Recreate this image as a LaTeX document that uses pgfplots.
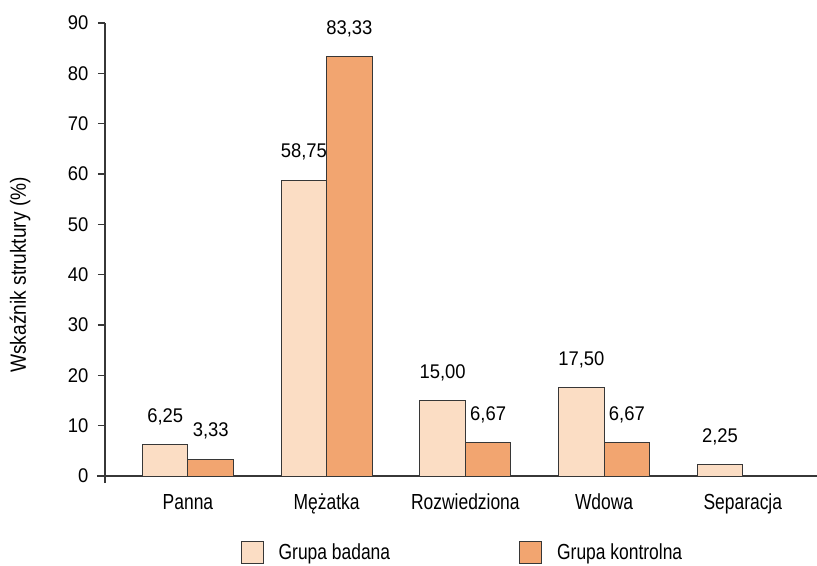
\documentclass[border=0pt]{standalone}
\usepackage{fontspec}
\setmainfont[FakeStretch=0.8]{Liberation Sans}
\newfontfamily\numfont[FakeStretch=0.93]{Liberation Sans}
\newfontfamily\ylfont[FakeStretch=0.87]{Liberation Sans}
\usepackage{pgfplots}
\pgfplotsset{compat=1.18}
\definecolor{light}{RGB}{251,221,196}
\definecolor{dark}{RGB}{242,165,112}
\definecolor{edge}{RGB}{55,55,55}
\begin{document}
\begin{tikzpicture}
\useasboundingbox (-105bp,-90bp) rectangle (712bp,476bp);
\begin{axis}[
  scale only axis, width=712bp, height=453bp,
  xmin=-0.598, xmax=4.535, ymin=0, ymax=90,
  axis lines*=left,
  axis line style={draw=edge, line width=1.2bp},
  x axis line style={shorten <=-8bp},
  y axis line style={shorten <=-7bp},
  ybar=0bp, bar width=45.5bp,
  ytick={0,10,...,90},
  tick align=outside, major tick length=7bp,
  ytick style={draw=edge, line width=1.2bp},
  xtick={0,1,2,3,4},
  xticklabels={Panna,Mężatka,Rozwiedziona,Wdowa,Separacja},
  xtick style={draw=none},
  /pgf/number format/assume math mode=true,
  yticklabel style={font=\numfont\fontsize{19.8bp}{20bp}\selectfont, xshift=-6bp},
  xticklabel style={font=\fontsize{21.8bp}{22bp}\selectfont, anchor=base, yshift=-26bp},
  ylabel={Wskaźnik struktury (\%)},
  ylabel style={font=\ylfont\fontsize{22bp}{22bp}\selectfont, at={(axis description cs:-0.1194,0.444)}, anchor=center},
  nodes near coords={\pgfmathprintnumber[fixed,fixed zerofill,precision=2,use comma]{\pgfplotspointmeta}},
  every node near coord/.append style={font=\numfont\fontsize{19.8bp}{20bp}\selectfont, anchor=center, yshift=28bp, text=black},
  legend columns=2,
  legend style={draw=none, fill=none, at={(axis description cs:0.502,-0.169)}, anchor=center,
    font=\fontsize{21.8bp}{22bp}\selectfont,
    /tikz/every odd column/.append style={column sep=13bp},
    /tikz/every even column/.append style={column sep=127bp}},
  legend image code/.code={\draw[#1, line width=1bp] (0bp,-11bp) rectangle (22bp,11bp);},
]
\addplot[fill=light, draw=edge, line width=1bp] coordinates {(0,6.25) (1,58.75) (2,15) (3,17.5) (4,2.25)};
\addplot[fill=dark, draw=edge, line width=1bp] coordinates {(0,3.33) (1,83.33) (2,6.67) (3,6.67)};
\legend{Grupa badana, Grupa kontrolna}
\end{axis}
\end{tikzpicture}
\end{document}
